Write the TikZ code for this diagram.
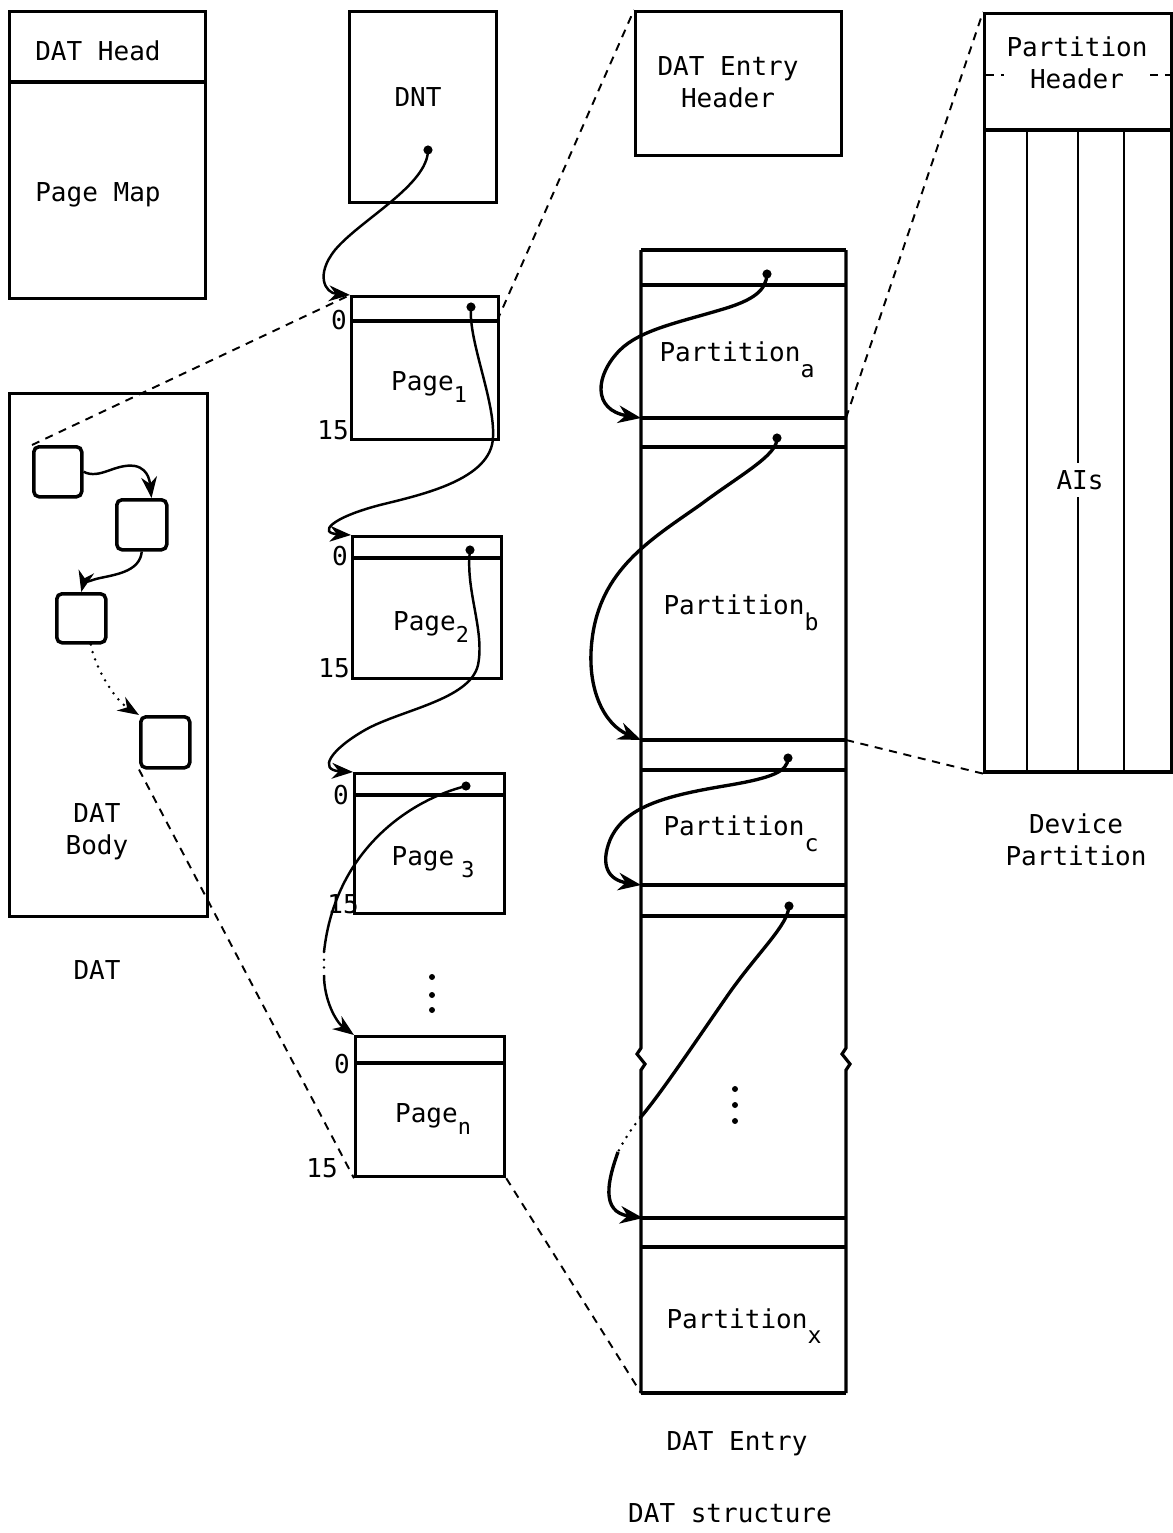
\documentclass[tikz,border=0pt]{standalone}
\usepackage{fontspec}
\setmainfont{DejaVu Sans Mono}
\usetikzlibrary{arrows.meta}
\newcommand{\pgsub}[1]{\raisebox{-0.8ex}{\fontsize{6.2pt}{7pt}\selectfont #1}}
\newcommand{\ptsub}[1]{\raisebox{-1.1ex}{\fontsize{6.6pt}{7pt}\selectfont #1}}
\begin{document}
\begin{tikzpicture}[x=0.01cm,y=-0.01cm,
  font=\fontsize{7.4pt}{9pt}\selectfont,
  blk/.style={draw, line width=0.9pt, inner sep=0pt, anchor=north west},
  sbox/.style={blk, line width=1pt, rounded corners=1.5pt},
  sep/.style={line width=0.9pt},
  thinline/.style={line width=0.5pt},
  conn/.style={line width=0.7pt, -{Stealth[length=6pt,width=4.5pt]}},
  econn/.style={line width=0.95pt, -{Stealth[length=6.5pt,width=5pt]}},
  plainconn/.style={line width=0.7pt},
  eplain/.style={line width=0.95pt},
  zoomline/.style={line width=0.55pt, dash pattern=on 2.3pt off 1.9pt},
  dotline/.style={line width=0.8pt, line cap=round, dash pattern=on 0pt off 2.2pt},
  ptr/.style={circle, fill, inner sep=0pt, minimum size=2.6pt},
  smalldot/.style={circle, fill, inner sep=0pt, minimum size=1.7pt},
  lbl/.style={inner sep=0pt, align=center}]
\useasboundingbox (0,0) rectangle (1172,1533);

% ---------------- DAT ----------------
\node[blk, minimum width=1.96cm, minimum height=2.87cm] (dathead) at (8,10) {};
\draw[sep] (8,82) -- (204,82);
\node[lbl] (tdathead) at (98,51) {DAT Head};
\node[lbl] (tpagemap) at (98,195) {Page Map};

\node[blk, minimum width=1.98cm, minimum height=5.23cm] (datbody) at (8,392) {};
\node[lbl] (tdatbody) at (97,832) {DAT\\Body};
\node[lbl] (tdat) at (97,970) {DAT};

\node[sbox, minimum width=0.48cm, minimum height=0.50cm] (b1) at (32,445) {};
\node[sbox, minimum width=0.50cm, minimum height=0.50cm] (b2) at (115,498) {};
\node[sbox, minimum width=0.49cm, minimum height=0.49cm] (b3) at (55,592) {};
\node[sbox, minimum width=0.49cm, minimum height=0.51cm] (b4) at (139,715) {};

\draw[conn] (b1.east) .. controls (100,480) and (115,463) .. (135,466)
  .. controls (150,469) and (150,485) .. (b2.70);
\draw[conn] (b2.south) .. controls (140,570) and (120,574) .. (100,578)
  .. controls (90,580) and (83,585) .. (b3.north);
\draw[dotline, -{Stealth[length=6pt,width=4.5pt]}] (b3.-70) .. controls (95,668) and (115,700) .. (b4.north west);

% ---------------- DNT and pages ----------------
\node[blk, minimum width=1.47cm, minimum height=1.91cm] (dnt) at (348,10) {};
\node[lbl] (tdnt) at (418,97) {DNT};
\node[ptr] (dntdot) at (428,150) {};

\node[blk, minimum width=1.47cm, minimum height=1.43cm] (page1) at (350,295) {};
\draw[sep] (350,321) -- (497,321);
\coordinate (p1r) at (497,321);
\node[lbl] (tp1) at (429,387) {Page\pgsub{1}};
\node[lbl] (z1) at (339,320) {0};
\node[lbl] (f1) at (333,430) {15};
\node[ptr] (p1dot) at (471,307) {};

\node[blk, minimum width=1.49cm, minimum height=1.42cm] (page2) at (351,535) {};
\draw[sep] (351,558) -- (500,558);
\node[lbl] (tp2) at (431,627) {Page\pgsub{2}};
\node[lbl] (z2) at (340,556) {0};
\node[lbl] (f2) at (334,668) {15};
\node[ptr] (p2dot) at (470,550) {};

\node[blk, minimum width=1.50cm, minimum height=1.40cm] (page3) at (353,772) {};
\draw[sep] (353,795) -- (503,795);
\node[lbl] (tp3) at (433,862) {Page\kern2pt\pgsub{3}};
\node[lbl] (z3) at (341,795) {0};
\node[lbl] (f3) at (343,904) {15};
\node[ptr] (p3dot) at (466,786) {};

\node[smalldot] (vd1) at (432,977) {};
\node[smalldot] (vd2) at (432,995) {};
\node[smalldot] (vd3) at (432,1010) {};

\node[blk, minimum width=1.49cm, minimum height=1.40cm] (pagen) at (354,1035) {};
\draw[sep] (354,1063) -- (503,1063);
\node[lbl] (tpn) at (433,1119) {Page\pgsub{n}};
\node[lbl] (zn) at (342,1064) {0};
\node[lbl] (fn) at (322,1168) {15};

\draw[conn] (dntdot.center) .. controls (428,185) and (360,220) .. (335,250)
  .. controls (315,275) and (325,293) .. (page1.north west);
\draw[conn] (p1dot.center) .. controls (468,340) and (495,400) .. (493,437)
  .. controls (492,480) and (420,495) .. (380,505)
  .. controls (330,518) and (318,533) .. (page2.north west);
\draw[conn] (p2dot.center) .. controls (465,590) and (485,630) .. (478,665)
  .. controls (470,700) and (400,710) .. (365,730)
  .. controls (330,750) and (318,770) .. (page3.north west);
\coordinate (gap1) at (324,952);
\coordinate (gap2) at (324,975);
\draw[plainconn] (p3dot.center) .. controls (410,800) and (335,850) .. (gap1);
\draw[dotline] (gap1) -- (gap2);
\draw[conn] (gap2) .. controls (324,1000) and (336,1022) .. (pagen.north west);

% ---------------- DAT Entry ----------------
\node[blk, minimum width=2.06cm, minimum height=1.44cm] (hdr) at (634,10) {};
\node[lbl] (thdr) at (728,82) {DAT Entry\\Header};

\coordinate (etl) at (641,250);
\coordinate (etr) at (846,250);
\coordinate (ebl) at (641,1393);
\coordinate (ebr) at (846,1393);
\draw[sep] (etl) -- (etr);
\draw[sep] (ebl) -- (ebr);
\draw[sep] (etl) -- (641,1048) -- (637,1054) -- (645,1064) -- (641,1070) -- (ebl);
\draw[sep] (etr) -- (846,1048) -- (842,1054) -- (850,1064) -- (846,1070) -- (ebr);
\foreach \yy in {285,418,447,740,770,885,916,1218,1247}
  \draw[sep] (641,\yy) -- (846,\yy);
\coordinate (sepA) at (846,418);
\coordinate (sepB) at (846,740);

\node[lbl] (tpa) at (737,360) {Partition\ptsub{a}};
\node[lbl] (tpb) at (741,613) {Partition\ptsub{b}};
\node[lbl] (tpc) at (741,834) {Partition\ptsub{c}};
\node[lbl] (tpx) at (744,1326) {Partition\ptsub{x}};

\node[smalldot] (cd1) at (735,1089) {};
\node[smalldot] (cd2) at (735,1105) {};
\node[smalldot] (cd3) at (735,1121) {};

\node[ptr] (dota) at (767,274) {};
\node[ptr] (dotb) at (777,438) {};
\node[ptr] (dotc) at (788,758) {};
\node[ptr] (dotx) at (789,906) {};
\coordinate (ta) at (641,418);
\coordinate (tb) at (641,740);
\coordinate (tc) at (641,885);
\coordinate (tx) at (643,1218);

\draw[econn] (dota.center) .. controls (766,290) and (755,300) .. (720,310)
  .. controls (680,322) and (640,330) .. (620,350)
  .. controls (595,375) and (592,410) .. (ta);
\draw[econn] (dotb.center) .. controls (778,455) and (740,475) .. (700,505)
  .. controls (650,540) and (600,570) .. (592,640)
  .. controls (586,690) and (605,725) .. (tb);
\draw[econn] (dotc.center) .. controls (788,772) and (770,778) .. (730,785)
  .. controls (670,795) and (625,805) .. (610,840)
  .. controls (600,865) and (608,880) .. (tc);
\coordinate (gap3) at (640,1118);
\coordinate (gap4) at (618,1152);
\draw[eplain] (dotx.center) .. controls (788,925) and (760,950) .. (730,992)
  .. controls (700,1035) and (660,1095) .. (gap3);
\draw[dotline] (gap3) .. controls (632,1128) and (624,1140) .. (gap4);
\draw[econn] (gap4) .. controls (608,1180) and (600,1212) .. (tx);

\node[lbl] (tentry) at (737,1444) {DAT Entry};
\node[lbl] (tstruct) at (730,1513) {DAT structure};

% ---------------- Device Partition ----------------
\node[blk, minimum width=1.87cm, minimum height=7.58cm] (devpart) at (983,12) {};
\draw[sep] (983,130) -- (1170,130);
\foreach \xx in {1027,1078,1124}
  \draw[thinline] (\xx,130) -- (\xx,770);
\node[lbl] (tphdr) at (1077,63) {Partition\\Header};
\draw[zoomline] (986,75) -- (1004,75);
\draw[zoomline] (1150,75) -- (1170,75);
\node[lbl, fill=white, inner sep=2pt] (tais) at (1080,480) {AIs};
\node[lbl] (tdev) at (1076,840) {Device\\Partition};

% ---------------- zoom (dashed) lines ----------------
\draw[zoomline] (b1.north west) -- (page1.north west);
\draw[zoomline] (b4.south west) -- (pagen.south west);
\draw[zoomline] (p1r) -- (hdr.north west);
\draw[zoomline] (pagen.south east) -- (ebl);
\draw[zoomline] (sepA) -- (devpart.north west);
\draw[zoomline] (sepB) -- (devpart.south west);
\end{tikzpicture}
\end{document}
